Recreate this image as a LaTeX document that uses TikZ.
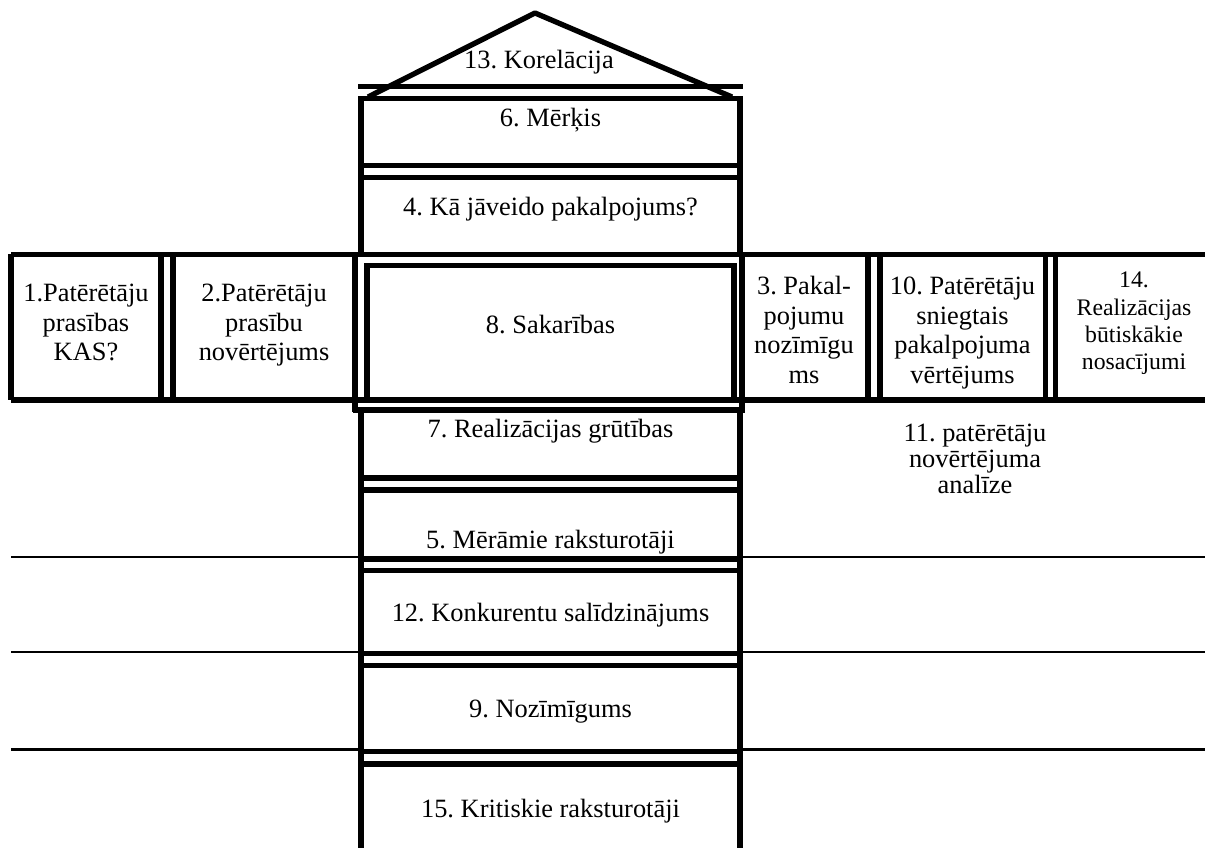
\documentclass[tikz,border=0pt]{standalone}
\usepackage{fontspec}
\setmainfont{Liberation Serif}
\frenchspacing
\newcommand{\mlines}[1]{\begin{tabular}[t]{@{}c@{}}#1\end{tabular}}
\begin{document}
\begin{tikzpicture}[x=0.75pt,y=-0.75pt,
  thk/.style={line width=4pt},
  thn/.style={line width=1.7pt},
  lbl/.style={inner sep=0pt, anchor=base, font=\fontsize{19.8}{22.1}\selectfont\frenchspacing},
  lblsm/.style={inner sep=0pt, anchor=base, font=\fontsize{17.8}{20.5}\selectfont\frenchspacing},
  lblan/.style={inner sep=0pt, anchor=base, font=\fontsize{19.8}{19.5}\selectfont\frenchspacing}]
\useasboundingbox (0,0) rectangle (1205,848);
% roof
\coordinate (roofL) at (368,97);
\coordinate (roofT) at (535,13);
\coordinate (roofR) at (732,97);
\draw[thk, line join=round] (roofL) -- (roofT) -- (roofR);
\coordinate (eaveL) at (358,86.5);
\coordinate (eaveR) at (743,86.5);
\draw[thk] (eaveL) -- (eaveR);
% box 6
\draw[thk] (361,98.5) rectangle (740,165.5);
% box 4
\draw[thk] (361,165.5) -- (361,254.5);
\draw[thk] (740,165.5) -- (740,254.5);
\draw[thk] (361,177.5) -- (740,177.5);
% band
\draw[thk] (11,254.5) -- (1205,254.5);
\draw[thk] (11,400) -- (1205,400);
\draw[thk] (11,254.5) -- (11,400);
\draw[thk] (161,254.5) -- (161,400);
\draw[thk] (173,254.5) -- (173,400);
\draw[thk] (868,254.5) -- (868,400);
\draw[thk] (880,254.5) -- (880,400);
\draw[thk] (1045.5,254.5) -- (1045.5,400);
\draw[thk] (1055.5,254.5) -- (1055.5,400);
% box 8 frames
\draw[thk] (355,254.5) -- (355,412);
\draw[thk] (742,254.5) -- (742,412);
\draw[thk] (353,410) -- (745,410);
\draw[thk] (367,400) -- (367,265.5) -- (734,265.5) -- (734,400);
% lower column
\draw[thk] (361,410) -- (361,848);
\draw[thk] (740,410) -- (740,848);
\foreach \yy in {478,490,559,570.5,653.5,665.5,751.5,764}
  \draw[thk] (361,\yy) -- (740,\yy);
% thin side lines
\foreach \yy in {557,652,749.5}{
  \draw[thn] (11,\yy) -- (361,\yy);
  \draw[thn] (740,\yy) -- (1205,\yy);
}
% labels
\node[lbl] (t13) at (539,68.3) {13. Korelācija};
\node[lbl] (t6) at (550.5,126.7) {6. Mērķis};
\node[lbl] (t4) at (550.5,216) {4. Kā jāveido pakalpojums?};
\node[lbl] (t8) at (550.5,333) {8. Sakarības};
\node[lbl] (t7) at (550.5,437) {7. Realizācijas grūtības};
\node[lbl] (t5) at (550.5,548) {5. Mērāmie raksturotāji};
\node[lbl] (t12) at (550.5,621.7) {12. Konkurentu salīdzinājums};
\node[lbl] (t9) at (550.5,717) {9. Nozīmīgums};
\node[lbl] (t15) at (550.5,817) {15. Kritiskie raksturotāji};
\node[lbl] (t1) at (86,301.7) {\mlines{1.Patērētāju\\prasības\\KAS?}};
\node[lbl] (t2) at (264,301.7) {\mlines{2.Patērētāju\\prasību\\novērtējums}};
\node[lbl] (t3) at (804,295) {\mlines{3. Pakal-\\pojumu\\nozīmīgu\\ms}};
\node[lbl] (t10) at (962.5,295) {\mlines{10. Patērētāju\\sniegtais\\pakalpojuma\\vērtējums}};
\node[lblsm] (t14) at (1134,288) {\mlines{14.\\Realizācijas\\būtiskākie\\nosacījumi}};
\node[lblan] (t11) at (975,441) {\mlines{11. patērētāju\\novērtējuma\\analīze}};
\end{tikzpicture}
\end{document}
